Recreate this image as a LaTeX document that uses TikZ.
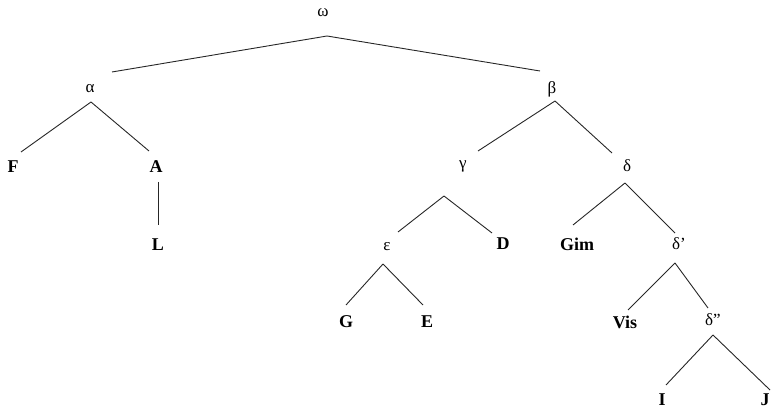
\documentclass[tikz,border=0pt]{standalone}
\usepackage{fontspec}
\setmainfont{Liberation Serif}

\tikzset{
  inner/.style={inner sep=0pt, font=\fontsize{17}{20}\selectfont},
  leaf/.style={inner sep=0pt, font=\fontsize{18}{21}\selectfont\bfseries},
  branch/.style={line width=0.9pt, black!85}
}

\begin{document}
\begin{tikzpicture}[x=1pt, y=-1pt]
\useasboundingbox (0,0) rectangle (771,411);
% internal nodes
\node[inner] (w)  at (323,13)  {ω};
\node[inner] (a)  at (90,89)   {α};
\node[inner] (b)  at (552,89)  {β};
\node[inner] (g)  at (463,166) {γ};
\node[inner] (d)  at (627,166) {δ};
\node[inner] (e)  at (387,247) {ε};
\node[inner] (d1) at (679,244) {δ’};
\node[inner] (d2) at (713,320) {δ”};
% leaves
\node[leaf] (F)   at (13,167)  {F};
\node[leaf] (A)   at (156,167) {A};
\node[leaf] (L)   at (158,245) {L};
\node[leaf] (D)   at (503,244) {D};
\node[leaf] (Gim) at (577,244) {Gim};
\node[leaf] (G)   at (346,322) {G};
\node[leaf] (E)   at (427,322) {E};
\node[leaf] (Vis) at (625,322) {Vis};
\node[leaf] (I)   at (662,400) {I};
\node[leaf] (J)   at (765,400) {J};
% branches: parent/child/apex offset/drop below parent/x offset/rise above child
\foreach \p/\c/\px/\s/\dx/\e in {w/a/4/23/22/17, w/b/4/23/-12/18, a/F/1/13/8/15, a/A/1/13/-7/16,
    A/L/2/15/0/20, b/g/3/12/15/15, b/d/3/12/-15/13, g/e/-19/30/11/15, g/D/-19/30/-11/11,
    e/G/-4/17/0/17, e/E/-4/17/-4/17, d/Gim/-2/17/-4/19, d/d1/-2/17/-4/11, d1/Vis/-4/19/3/12,
    d1/d2/-4/19/-5/12, d2/I/0/15/4/15, d2/J/0/15/5/10}
  \draw[branch] ([shift={(\px,\s)}]\p.center) -- ([shift={(\dx,-\e)}]\c.center);
\end{tikzpicture}
\end{document}
